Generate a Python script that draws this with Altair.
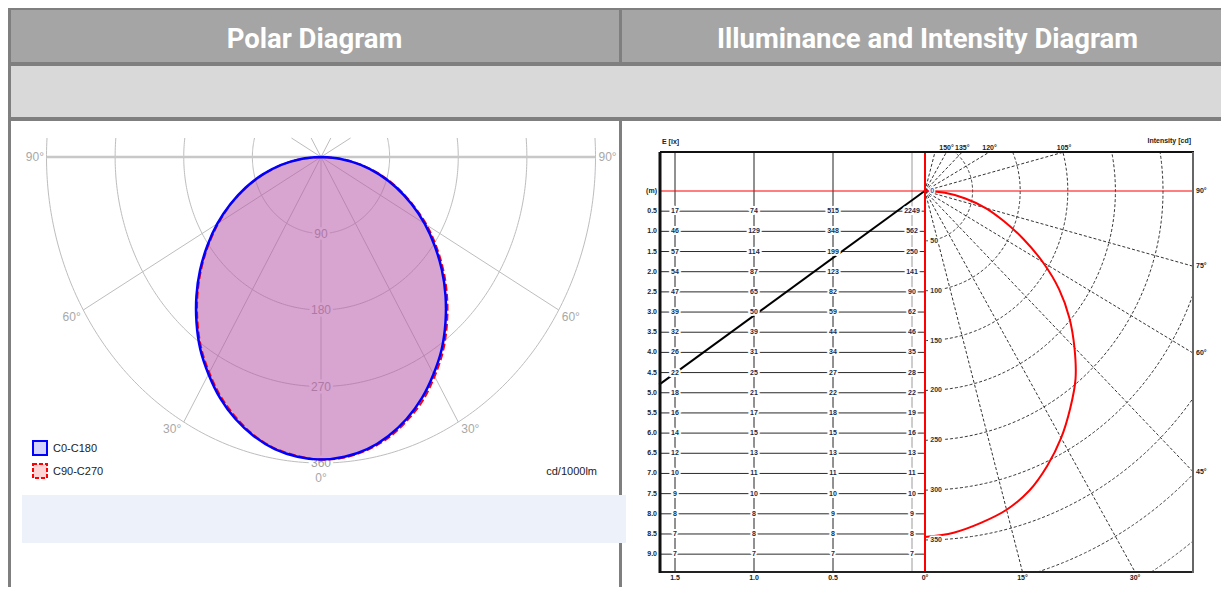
import math
import altair as alt
import pandas as pd

# ------------------------------------------------------------------ data
# Polar diagram, luminous intensity in cd/1000lm, gamma 0..90 deg
gamma_deg = [0, 5, 10, 15, 20, 25, 30, 35, 40, 45, 50, 55, 60, 65, 70, 75, 80, 85, 90]
c0_c180 = [356, 354, 349, 340, 328, 313, 295, 276, 254, 231, 207, 182, 157, 131, 105, 79, 53, 26, 0]
c90 = [356, 355, 350, 342, 330, 316, 298, 279, 257, 234, 210, 185, 160, 133, 107, 81, 54, 27, 0]
c270 = [356, 353, 348, 339, 326, 311, 293, 274, 252, 229, 205, 180, 155, 130, 104, 78, 52, 26, 0]
polar_rings = [90, 180, 270, 360]
polar_spokes = [0, 30, 60, 120, 150]
polar_side_labels = [90, 60, 30]

# Illuminance table (lx) for mounting heights (m) and lateral offsets (m)
heights_m = [0.5, 1.0, 1.5, 2.0, 2.5, 3.0, 3.5, 4.0, 4.5, 5.0, 5.5, 6.0, 6.5, 7.0, 7.5, 8.0, 8.5, 9.0]
offsets_m = [1.5, 1.0, 0.5, 0.0]
lux_offset_1_5 = [17, 46, 57, 54, 47, 39, 32, 26, 22, 18, 16, 14, 12, 10, 9, 8, 7, 7]
lux_offset_1_0 = [74, 129, 114, 87, 65, 50, 39, 31, 25, 21, 17, 15, 13, 11, 10, 8, 8, 7]
lux_offset_0_5 = [515, 348, 199, 123, 82, 59, 44, 34, 27, 22, 18, 15, 13, 11, 10, 9, 8, 7]
lux_offset_0_0 = [2249, 562, 250, 141, 90, 62, 46, 35, 28, 22, 19, 16, 13, 11, 10, 9, 8, 7]
beam_offset_m = [-0.08, 1.6]
beam_height_m = [0.0, 4.8]

# Intensity diagram (cd)
intensity_gamma = [0, 5, 10, 15, 20, 25, 30, 35, 40, 45, 50, 55, 60, 65, 70, 75, 80, 85, 90]
intensity_cd = [347, 344, 338, 331, 320, 304, 286, 266, 246, 222, 198, 172, 143, 114, 88, 66, 43, 21, 0]
intensity_rings = [50, 100, 150, 200, 250, 300, 350, 400, 450]
intensity_ring_labels = [0, 50, 100, 150, 200, 250, 300, 350]
intensity_spokes = [15, 30, 45, 60, 75, 105, 120, 135, 150, 165]
bottom_angle_ticks = [0, 15, 30]
right_angle_ticks = [90, 75, 60, 45]
top_angle_ticks = [150, 135, 120, 105]

# ------------------------------------------------------------------ layout
W, H = 1213, 579
M = 8
dummy = pd.DataFrame({"k": [0]})
FONT = "Liberation Sans"


def px(v):
    return v - M


def rad(a):
    return math.radians(a)


def rect(x1, y1, x2, y2, color, **kw):
    return alt.Chart(dummy).mark_rect(color=color, **kw).encode(
        x=alt.value(px(x1)), x2=alt.value(px(x2)), y=alt.value(px(y1)), y2=alt.value(px(y2)))


def hline(y, x1, x2, color, w):
    return alt.Chart(dummy).mark_rule(color=color, strokeWidth=w).encode(
        y=alt.value(px(y)), x=alt.value(px(x1)), x2=alt.value(px(x2)))


def vline(x, y1, y2, color, w):
    return alt.Chart(dummy).mark_rule(color=color, strokeWidth=w).encode(
        x=alt.value(px(x)), y=alt.value(px(y1)), y2=alt.value(px(y2)))


def label(x, y, text, **kw):
    return alt.Chart(dummy).mark_text(text=text, **kw).encode(
        x=alt.value(px(x)), y=alt.value(px(y)))


layers = []

# ================================================================ left polar
LP_CX, LP_CY = 321, 157
LP_KX, LP_KY = 274.5 / 360, 306 / 360
lp_x = alt.Scale(domain=[-(LP_CX - M) / LP_KX, (W - (LP_CX - M)) / LP_KX], nice=False, zero=False)
lp_y = alt.Scale(domain=[-(LP_CY - M) / LP_KY, (H - (LP_CY - M)) / LP_KY], nice=False, zero=False, reverse=True)
LP_TOP = (138 - LP_CY) / LP_KY


def LX(f):
    return alt.X(f, type="quantitative", scale=lp_x, axis=None)


def LY(f):
    return alt.Y(f, type="quantitative", scale=lp_y, axis=None)


ring_rows = []
for r in polar_rings:
    tc = math.degrees(math.acos(max(-1.0, min(1.0, LP_TOP / r))))
    n = 240
    for i in range(n + 1):
        t = -tc + 2 * tc * i / n
        ring_rows.append({"ring": r, "o": i, "x": r * math.sin(rad(t)), "y": r * math.cos(rad(t))})
layers.append(alt.Chart(pd.DataFrame(ring_rows)).mark_line(color="#bdbdbd", strokeWidth=1).encode(
    x=LX("x"), y=LY("y"), detail="ring:N", order="o:Q"))

spoke_rows = []
for a in polar_spokes:
    for s in (-1, 1):
        if a == 0 and s == -1:
            continue
        c = math.cos(rad(a))
        t = 360 if c >= 0 else min(360, LP_TOP / c)
        spoke_rows.append({"x": 0, "y": 0, "x2": s * t * math.sin(rad(a)), "y2": t * c})
layers.append(alt.Chart(pd.DataFrame(spoke_rows)).mark_rule(color="#bdbdbd", strokeWidth=1).encode(
    x=LX("x"), y=LY("y"), x2="x2", y2="y2"))
layers.append(alt.Chart(pd.DataFrame({"x": [-360], "x2": [360], "y": [0]})).mark_rule(
    color="#c8c8c8", strokeWidth=2.5).encode(x=LX("x"), x2="x2", y=LY("y")))

ring_lab = pd.DataFrame({"x": [0] * len(polar_rings), "y": polar_rings, "t": [str(r) for r in polar_rings]})
layers.append(alt.Chart(ring_lab).mark_text(font=FONT, fontSize=12, color="white", stroke="white",
                                            strokeWidth=5).encode(x=LX("x"), y=LY("y"), text="t:N"))
layers.append(alt.Chart(ring_lab).mark_text(font=FONT, fontSize=12, color="#a0a0a0").encode(
    x=LX("x"), y=LY("y"), text="t:N"))

fill_df = pd.DataFrame({
    "y": [v * math.cos(rad(g)) for g, v in zip(gamma_deg, c0_c180)],
    "xl": [-v * math.sin(rad(g)) for g, v in zip(gamma_deg, c0_c180)],
    "xr": [v * math.sin(rad(g)) for g, v in zip(gamma_deg, c0_c180)],
})
layers.append(alt.Chart(fill_df).mark_area(orient="horizontal", color="#b85aaa", opacity=0.55,
                                           interpolate="monotone").encode(
    y=LY("y"), x=LX("xl"), x2="xr"))


def curve_df(left_vals, right_vals):
    rows = []
    o = 0
    for g, v in reversed(list(zip(gamma_deg, left_vals))):
        rows.append({"o": o, "x": -v * math.sin(rad(g)), "y": v * math.cos(rad(g))})
        o += 1
    for g, v in list(zip(gamma_deg, right_vals))[1:]:
        rows.append({"o": o, "x": v * math.sin(rad(g)), "y": v * math.cos(rad(g))})
        o += 1
    return pd.DataFrame(rows)


layers.append(alt.Chart(curve_df(c270, c90)).mark_line(color="#ff0000", strokeWidth=2,
                                                      strokeDash=[7, 3],
                                                      interpolate="catmull-rom").encode(
    x=LX("x"), y=LY("y"), order="o:Q"))
layers.append(alt.Chart(curve_df(c0_c180, c0_c180)).mark_line(color="#0000ff", strokeWidth=2.5,
                                                              interpolate="catmull-rom").encode(
    x=LX("x"), y=LY("y"), order="o:Q"))

for side, align, dx in ((-1, "right", -2.5), (1, "left", 3)):
    for a in polar_side_labels:
        df = pd.DataFrame({"x": [side * 360 * math.sin(rad(a))], "y": [360 * math.cos(rad(a))],
                           "t": [f"{a}°"]})
        layers.append(alt.Chart(df).mark_text(font=FONT, fontSize=12, color="#a8a8a8", align=align,
                                              baseline="middle", dx=dx,
                                              dy=0 if a == 90 else 7).encode(
            x=LX("x"), y=LY("y"), text="t:N"))
layers.append(alt.Chart(pd.DataFrame({"x": [0], "y": [360], "t": ["0°"]})).mark_text(
    font=FONT, fontSize=12, color="#a8a8a8", baseline="middle", dy=15).encode(
    x=LX("x"), y=LY("y"), text="t:N"))

# ================================================================ right diagram
RP_OX, RP_OY = 925, 191
RP_KX, RP_KY = 0.952, 0.997
rp_x = alt.Scale(domain=[-(RP_OX - M) / RP_KX, (W - (RP_OX - M)) / RP_KX], nice=False, zero=False)
rp_y = alt.Scale(domain=[-(RP_OY - M) / RP_KY, (H - (RP_OY - M)) / RP_KY], nice=False, zero=False, reverse=True)
FR_L, FR_R, FR_T, FR_B = 660, 1193, 152, 572
fx_min = (FR_L - RP_OX) / RP_KX
fx_max = (FR_R - RP_OX) / RP_KX
fy_min = (FR_T - RP_OY) / RP_KY
fy_max = (FR_B - RP_OY) / RP_KY

TB_X0, TB_KX, TB_Y0, TB_KY = 912, 158, 191, 40.35
tb_x = alt.Scale(domain=[-(W - (TB_X0 - M)) / TB_KX, (TB_X0 - M) / TB_KX], nice=False, zero=False, reverse=True)
tb_y = alt.Scale(domain=[-(TB_Y0 - M) / TB_KY, (H - (TB_Y0 - M)) / TB_KY], nice=False, zero=False, reverse=True)
d_left = (TB_X0 - FR_L) / TB_KX
d_red = (TB_X0 - RP_OX) / TB_KX
h_top = (FR_T - TB_Y0) / TB_KY
h_bot = (FR_B - TB_Y0) / TB_KY


def RX(f):
    return alt.X(f, type="quantitative", scale=rp_x, axis=None)


def RY(f):
    return alt.Y(f, type="quantitative", scale=rp_y, axis=None)


def TX(f):
    return alt.X(f, type="quantitative", scale=tb_x, axis=None)


def TY(f):
    return alt.Y(f, type="quantitative", scale=tb_y, axis=None)


# table grid
for d in offsets_m:
    layers.append(alt.Chart(pd.DataFrame({"d": [d], "h1": [h_top], "h2": [h_bot]})).mark_rule(
        color="#9a9a9a" if d == 0 else "#222222", strokeWidth=1).encode(x=TX("d"), y=TY("h1"), y2="h2"))
layers.append(alt.Chart(pd.DataFrame({"h": heights_m, "d1": [d_left] * len(heights_m),
                                      "d2": [d_red] * len(heights_m)})).mark_rule(
    color="#2a2a2a", strokeWidth=1).encode(y=TY("h"), x=TX("d1"), x2="d2"))

# dashed polar grid
arc_rows = []
for r in intensity_rings:
    lo = math.degrees(math.acos(min(1.0, fy_max / r)))
    hi = math.degrees(math.acos(max(-1.0, fy_min / r)))
    if r > fx_max:
        hi = min(hi, math.degrees(math.asin(fx_max / r)))
    n = 160
    for i in range(n + 1):
        g = lo + (hi - lo) * i / n
        arc_rows.append({"ring": r, "o": i, "x": r * math.sin(rad(g)), "y": r * math.cos(rad(g))})
layers.append(alt.Chart(pd.DataFrame(arc_rows)).mark_line(color="#333333", strokeWidth=1,
                                                          strokeDash=[3, 2]).encode(
    x=RX("x"), y=RY("y"), detail="ring:N", order="o:Q"))
sp_rows = []
for g in intensity_spokes:
    s, c = math.sin(rad(g)), math.cos(rad(g))
    tx = fx_max / s
    ty = fy_max / c if c > 1e-9 else (fy_min / c if c < -1e-9 else 1e9)
    t = min(tx, ty)
    sp_rows.append({"x": 0, "y": 0, "x2": t * s, "y2": t * c})
layers.append(alt.Chart(pd.DataFrame(sp_rows)).mark_rule(color="#333333", strokeWidth=1,
                                                         strokeDash=[3, 2]).encode(
    x=RX("x"), y=RY("y"), x2="x2", y2="y2"))

# beam line
layers.append(alt.Chart(pd.DataFrame({"d": beam_offset_m, "h": beam_height_m})).mark_line(
    color="#000000", strokeWidth=2).encode(x=TX("d"), y=TY("h")))

# intensity curve
curve = pd.DataFrame({"o": list(range(len(intensity_gamma))),
                      "x": [v * math.sin(rad(g)) for g, v in zip(intensity_gamma, intensity_cd)],
                      "y": [v * math.cos(rad(g)) for g, v in zip(intensity_gamma, intensity_cd)]})
layers.append(alt.Chart(curve).mark_line(color="#ff0000", strokeWidth=2,
                                         interpolate="catmull-rom").encode(
    x=RX("x"), y=RY("y"), order="o:Q"))

# red axes
layers.append(alt.Chart(pd.DataFrame({"x": [0], "y": [fy_min], "y2": [fy_max]})).mark_rule(
    color="#ff0000", strokeWidth=2).encode(x=RX("x"), y=RY("y"), y2="y2"))
layers.append(alt.Chart(pd.DataFrame({"y": [0], "x": [fx_min], "x2": [fx_max]})).mark_rule(
    color="#ff0000", strokeWidth=1.2).encode(y=RY("y"), x=RX("x"), x2="x2"))

# frame
layers.append(hline(FR_T, FR_L, FR_R + 1, "#111111", 2))
layers.append(hline(FR_B, FR_L, FR_R + 1, "#222222", 2))
layers.append(vline(FR_L, FR_T, FR_B + 1, "#111111", 3))
layers.append(vline(FR_R, FR_T, FR_B + 1, "#666666", 2))

# table numbers
tab_rows = []
for d, vals in zip(offsets_m, [lux_offset_1_5, lux_offset_1_0, lux_offset_0_5, lux_offset_0_0]):
    for h, v in zip(heights_m, vals):
        tab_rows.append({"d": d, "h": h, "t": str(v)})
tab = pd.DataFrame(tab_rows)
small = dict(font=FONT, fontSize=7, fontWeight="bold")
layers.append(alt.Chart(tab).mark_text(color="white", stroke="white", strokeWidth=4, **small).encode(
    x=TX("d"), y=TY("h"), text="t:N"))
layers.append(alt.Chart(tab).mark_text(color="#1c2a48", **small).encode(x=TX("d"), y=TY("h"), text="t:N"))

row_lab = pd.DataFrame({"h": [0.0] + heights_m, "t": ["(m)"] + [f"{h:.1f}" for h in heights_m]})
layers.append(alt.Chart(row_lab).mark_text(color="#222222", align="right", **small).encode(
    x=alt.value(px(657)), y=TY("h"), text="t:N"))

bot_lab = pd.DataFrame({"d": offsets_m[:3], "t": [f"{d:.1f}" for d in offsets_m[:3]]})
layers.append(alt.Chart(bot_lab).mark_text(color="#222222", **small).encode(
    x=TX("d"), y=alt.value(px(578)), text="t:N"))

# radial labels
rl = pd.DataFrame({"x": [5.5] * len(intensity_ring_labels), "y": intensity_ring_labels,
                   "t": [str(v) for v in intensity_ring_labels]})
layers.append(alt.Chart(rl).mark_text(color="white", stroke="white", strokeWidth=3, align="left",
                                      **small).encode(x=RX("x"), y=RY("y"), text="t:N"))
layers.append(alt.Chart(rl[rl["y"] > 0]).mark_text(color="#333333", align="left", **small).encode(
    x=RX("x"), y=RY("y"), text="t:N"))
layers.append(alt.Chart(rl[rl["y"] == 0]).mark_text(color="#2f5fb0", align="left", **small).encode(
    x=RX("x"), y=RY("y"), text="t:N"))

# angle labels
bl = pd.DataFrame({"x": [fy_max * math.tan(rad(g)) for g in bottom_angle_ticks],
                   "t": [f"{g}°" for g in bottom_angle_ticks]})
layers.append(alt.Chart(bl).mark_text(color="#222222", **small).encode(
    x=RX("x"), y=alt.value(px(578)), text="t:N"))
rl2 = pd.DataFrame({"y": [0 if g == 90 else fx_max / math.tan(rad(g)) for g in right_angle_ticks],
                    "t": [f"{g}°" for g in right_angle_ticks]})
layers.append(alt.Chart(rl2).mark_text(color="#222222", align="left", **small).encode(
    x=alt.value(px(1196)), y=RY("y"), text="t:N"))
tl = pd.DataFrame({"x": [fy_min * math.tan(rad(g)) for g in top_angle_ticks],
                   "t": [f"{g}°" for g in top_angle_ticks]})
layers.append(alt.Chart(tl).mark_text(color="#222222", **small).encode(
    x=RX("x"), y=alt.value(px(147.5)), text="t:N"))

layers.append(label(662, 142, "E [lx]", align="left", color="#222222", **small))
layers.append(label(1191, 141, "Intensity [cd]", align="right", color="#222222", **small))

# ================================================================ page decorations
BORDER = "#7f7f7f"
layers.append(rect(11, 10, 1229, 62, "#a5a5a5"))
layers.append(rect(11, 66, 1229, 117, "#d9d9d9"))
layers.append(rect(8, 7, 1229, 10, BORDER))
layers.append(rect(8, 7, 11, 595, BORDER))
layers.append(rect(11, 62, 1229, 66, BORDER))
layers.append(rect(11, 117, 1229, 121, BORDER))
layers.append(rect(619, 10, 622, 62, BORDER))
layers.append(rect(619, 121, 622, 595, BORDER))
layers.append(rect(22, 495, 626, 543, "#edf1f9"))

title_font = "Roboto, Liberation Sans, sans-serif"
layers.append(label(314.5, 47.5, "Polar Diagram", font=title_font, fontSize=27.5, fontWeight="bold",
                    color="white", baseline="alphabetic"))
layers.append(label(927.5, 47.5, "Illuminance and Intensity Diagram", font=title_font, fontSize=27.5,
                    fontWeight="bold", color="white", baseline="alphabetic"))

# legend
layers.append(rect(33, 441, 47, 455, "#d4d4ff", stroke="#0000ff", strokeWidth=2))
layers.append(rect(33, 464, 47, 478, "#ffd4d4", stroke="#ff0000", strokeWidth=2, strokeDash=[4, 2]))
layers.append(label(53, 449, "C0-C180", align="left", font=FONT, fontSize=11, color="#222222"))
layers.append(label(53, 472, "C90-C270", align="left", font=FONT, fontSize=11, color="#222222"))
layers.append(label(597, 472, "cd/1000lm", align="right", font=FONT, fontSize=11, color="#222222"))

chart = alt.layer(*layers).resolve_scale(x="independent", y="independent").properties(
    width=W, height=H, autosize=alt.AutoSizeParams(type="none"), padding=0,
    background="white").configure_view(strokeWidth=0)

chart.save("out.html", embed_options={"renderer": "svg", "actions": False})
